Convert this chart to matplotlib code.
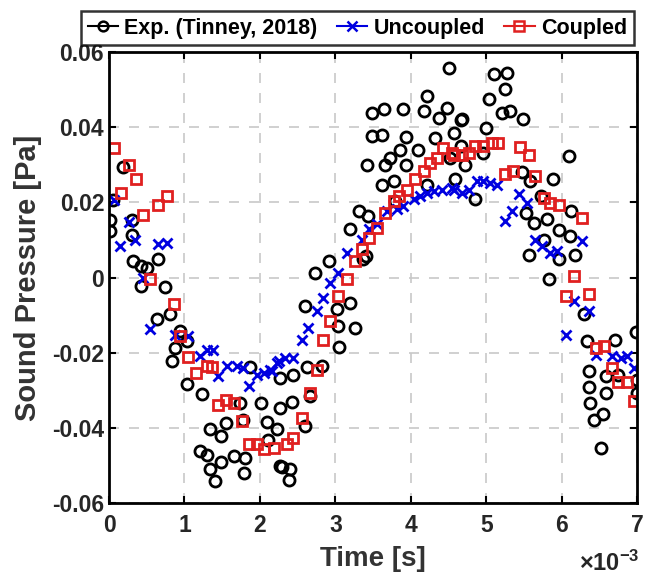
import matplotlib.pyplot as plt
import numpy as np

plt.rcParams['font.family'] = ['Liberation Sans', 'DejaVu Sans']
plt.rcParams['font.weight'] = 'bold'
plt.rcParams['mathtext.default'] = 'regular'

# 实验数据 (时间单位 ms)
exp_t = [0.01, 0.01, 0.05, 0.19, 0.30, 0.30, 0.32, 0.43, 0.50, 0.65, 0.43, 0.74,
         0.63, 0.81, 0.94, 1.03, 0.875, 0.83, 1.03, 1.23, 1.87, 2.27, 1.74, 2.02,
         2.27, 1.34, 1.55, 1.49, 1.78, 2.09, 2.22, 2.11, 1.21, 1.30, 1.34, 1.49,
         1.41, 1.65, 1.80, 1.79, 2.27, 2.42, 2.44, 2.62, 2.82, 2.67, 2.60, 2.29,
         2.40, 2.39, 2.60, 2.73, 2.91, 3.02, 3.20, 3.04, 3.26, 3.05, 3.37, 3.20,
         3.31, 3.43, 3.40, 3.62, 3.77, 3.42, 3.66, 3.73, 3.86, 3.93, 4.10, 3.48,
         3.62, 3.93, 4.32, 3.48, 3.64, 3.90, 4.17, 4.21, 4.37, 4.48, 4.51, 4.57,
         4.59, 4.21, 3.79, 4.66, 4.68, 4.66, 4.52, 4.72, 4.96, 4.99, 5.03, 5.10,
         5.27, 5.25, 5.21, 5.32, 5.49, 4.85, 5.47, 5.58, 5.89, 6.09, 5.52, 5.63,
         5.80, 5.96, 6.11, 6.12, 5.72, 5.76, 5.56, 5.96, 6.18, 5.83, 6.29, 6.33,
         6.71, 6.98, 6.36, 6.58, 6.36, 6.58, 6.38, 6.55, 6.43, 6.52, 6.75, 7.00,
         7.00]
exp_p = [0.0154, 0.0123, 0.0207, 0.0294, 0.0154, 0.0114, 0.0043, 0.0030, 0.0026,
         0.0048, -0.0023, -0.0025, -0.0110, -0.0098, -0.0143, -0.0170, -0.0187,
         -0.0223, -0.0282, -0.0311, -0.0238, -0.0267, -0.0335, -0.0335, -0.0347,
         -0.0404, -0.0387, -0.0422, -0.0378, -0.0384, -0.0404, -0.0431, -0.0462,
         -0.0471, -0.0509, -0.0491, -0.0542, -0.0475, -0.0480, -0.0520, -0.0502,
         -0.0332, -0.0258, -0.0239, -0.0234, -0.0316, -0.0396, -0.0504, -0.0509,
         -0.0538, -0.0075, 0.0013, 0.0043, -0.0085, -0.0067, -0.0130, -0.0134,
         -0.0184, 0.0048, 0.0128, 0.0176, 0.0163, 0.0057, 0.0247, 0.0256, 0.0298,
         0.0298, 0.0318, 0.0340, 0.0298, 0.0340, 0.0376, 0.0380, 0.0374, 0.0372,
         0.0438, 0.0447, 0.0447, 0.0443, 0.0482, 0.0425, 0.0452, 0.0558, 0.0385,
         0.0261, 0.0245, 0.0203, 0.0420, 0.0422, 0.0351, 0.0319, 0.0298, 0.0332,
         0.0398, 0.0474, 0.0540, 0.0545, 0.0500, 0.0438, 0.0443, 0.0422, 0.0209,
         0.0280, 0.0256, 0.0263, 0.0323, 0.0172, 0.0144, 0.0156, 0.0126, 0.0110,
         0.0176, 0.0216, 0.0101, 0.0061, 0.0048, 0.0061, -0.0005, -0.0098,
         -0.0170, -0.0165, -0.0146, -0.0249, -0.0263, -0.0291, -0.0307, -0.0335,
         -0.0362, -0.0380, -0.0453, -0.0258, -0.0273, -0.0307]

# 非耦合
unc_t = [0.06, 0.15, 0.26, 0.34, 0.45, 0.54, 0.65, 0.77, 0.875, 1.05, 1.21, 1.30,
         1.38, 1.45, 1.56, 1.69, 1.78, 1.85, 1.96, 2.05, 2.13, 2.16, 2.22, 2.25,
         2.33, 2.44, 2.56, 2.64, 2.75, 2.84, 2.93, 3.04, 3.15, 3.35, 3.44, 3.55,
         3.68, 3.82, 3.90, 4.04, 4.12, 4.21, 4.30, 4.41, 4.54, 4.57, 4.68, 4.77,
         4.88, 4.96, 5.05, 5.14, 5.25, 5.34, 5.43, 5.54, 5.65, 5.74, 5.85, 5.94,
         6.05, 6.16, 6.27, 6.36, 6.45, 6.67, 6.78, 6.87, 6.96]
unc_p = [0.0207, 0.0085, 0.0147, 0.0101, 0.0000, -0.0138, 0.0088, 0.0092,
         -0.0152, -0.0156, -0.0210, -0.0192, -0.0192, -0.0263, -0.0236, -0.0234,
         -0.0240, -0.0289, -0.0258, -0.0254, -0.0245, -0.0249, -0.0227, -0.0223,
         -0.0214, -0.0214, -0.0165, -0.0134, -0.0090, -0.0054, -0.0014, 0.0013,
         0.0066, 0.0101, 0.0128, 0.0141, 0.0176, 0.0181, 0.0190, 0.0208, 0.0216,
         0.0225, 0.0230, 0.0234, 0.0239, 0.0234, 0.0225, 0.0234, 0.0256, 0.0256,
         0.0252, 0.0247, 0.0150, 0.0176, 0.0221, 0.0199, 0.0101, 0.0083, 0.0066,
         0.0070, -0.0152, -0.0063, 0.0097, -0.0090, -0.0205, -0.0210, -0.0214,
         -0.0210, -0.0240]

# 耦合
cou_t = [0.06, 0.16, 0.26, 0.36, 0.45, 0.54, 0.65, 0.77, 0.86, 0.94, 1.05, 1.15,
         1.30, 1.37, 1.45, 1.55, 1.66, 1.76, 1.85, 1.96, 2.05, 2.18, 2.36, 2.44,
         2.56, 2.67, 2.75, 2.84, 2.93, 3.04, 3.15, 3.26, 3.35, 3.44, 3.55, 3.66,
         3.77, 3.84, 3.95, 4.06, 4.17, 4.26, 4.35, 4.43, 4.54, 4.57, 4.68, 4.77,
         4.85, 4.96, 5.08, 5.16, 5.25, 5.36, 5.45, 5.56, 5.65, 5.76, 5.85, 5.96,
         6.05, 6.16, 6.27, 6.36, 6.45, 6.56, 6.67, 6.75, 6.87, 6.96]
cou_p = [0.0345, 0.0224, 0.0298, 0.0261, 0.0166, -0.0005, 0.0192, 0.0216,
         -0.0070, -0.0156, -0.0212, -0.0254, -0.0234, -0.0238, -0.0338, -0.0326,
         -0.0335, -0.0382, -0.0444, -0.0444, -0.0455, -0.0453, -0.0444, -0.0427,
         -0.0373, -0.0307, -0.0245, -0.0165, -0.0116, -0.0050, -0.0005, 0.0043,
         0.0075, 0.0106, 0.0132, 0.0172, 0.0203, 0.0216, 0.0234, 0.0261, 0.0283,
         0.0305, 0.0318, 0.0345, 0.0332, 0.0327, 0.0327, 0.0332, 0.0349, 0.0349,
         0.0358, 0.0358, 0.0274, 0.0283, 0.0348, 0.0327, 0.0270, 0.0212, 0.0199,
         0.0194, -0.0048, 0.0005, 0.0159, -0.0045, -0.0187, -0.0183, -0.0240,
         -0.0279, -0.0279, -0.0329]

fig = plt.figure(figsize=(6.45, 5.83), dpi=100)
ax = fig.add_axes([0.169, 0.137, 0.819, 0.774])

ax.plot(np.array(exp_t) * 1e-3, exp_p, 'o', mfc='none', mec='black', mew=2,
        ms=8, ls='none', label='Exp. (Tinney, 2018)')
ax.plot(np.array(unc_t) * 1e-3, unc_p, 'x', color='#0000e0', mew=2,
        ms=6.5, ls='none', label='Uncoupled')
ax.plot(np.array(cou_t) * 1e-3, cou_p, 's', mfc='none', mec='#e02020', mew=2,
        ms=7, ls='none', label='Coupled')

ax.set_xlim(0, 7e-3)
ax.set_ylim(-0.06, 0.06)
ax.set_yticks(np.arange(-0.06, 0.061, 0.02))
ax.set_yticklabels(['-0.06', '-0.04', '-0.02', '0', '0.02', '0.04', '0.06'])
ax.set_xticks(np.arange(0, 8) * 1e-3)
ax.set_xticklabels([str(i) for i in range(8)])
# 科学计数法指数
fig.text(0.992, 0.012, r'$\times$10$^{-3}$', ha='right', va='bottom',
         fontsize=17, color='#262626')

ax.grid(True, ls=(0, (6, 6)), color='#c8c8c8', lw=1.2)
ax.tick_params(direction='in', top=True, right=True, width=1.5, length=5,
               labelsize=16.5, labelcolor='#262626')
ax.tick_params(axis='x', pad=8)
for s in ax.spines.values():
    s.set_linewidth(2)

ax.set_xlabel('Time [s]', fontsize=20, fontweight='bold', color='#333333', labelpad=6)
ax.set_ylabel('Sound Pressure [Pa]', fontsize=21, fontweight='bold', color='#333333',
              labelpad=7)

# 图例 (带线)
h1, = ax.plot([], [], '-o', color='black', mfc='none', mew=1.8, ms=7)
h2, = ax.plot([], [], '-x', color='#0000e0', mew=1.8, ms=7)
h3, = ax.plot([], [], '-s', color='#e02020', mfc='none', mew=1.8, ms=7)
leg = fig.legend([h1, h2, h3], ['Exp. (Tinney, 2018)', 'Uncoupled', 'Coupled'],
                 loc='upper right', bbox_to_anchor=(0.999, 0.999), ncol=3,
                 frameon=True, fancybox=False, edgecolor='black', fontsize=15.5,
                 handlelength=1.4, handletextpad=0.3, columnspacing=0.9,
                 borderpad=0.3)
leg.get_frame().set_linewidth(1.8)

plt.savefig('out.png', dpi=100)
